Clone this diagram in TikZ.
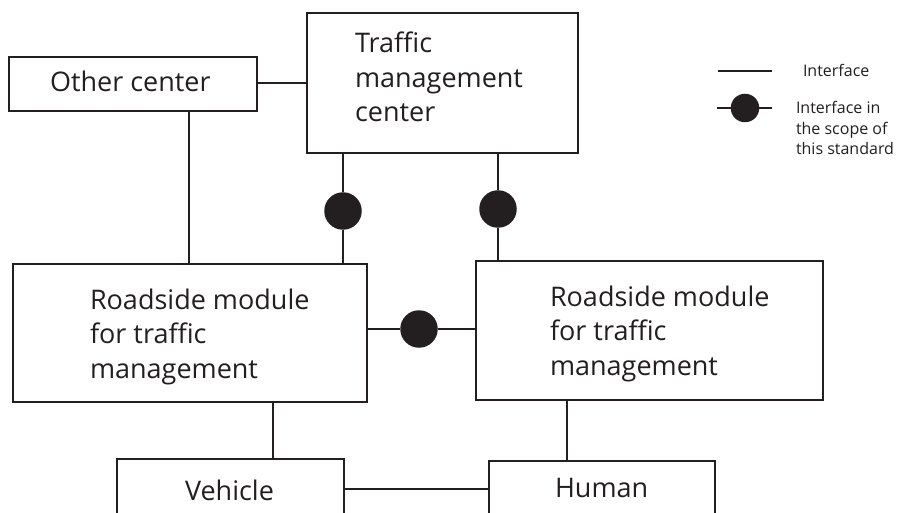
\documentclass[tikz,border=0pt]{standalone}
\usepackage{fontspec}
\setmainfont{Open Sans}
\definecolor{ink}{HTML}{231F20}
\begin{document}
\begin{tikzpicture}[x=1pt,y=-1pt,
  every node/.style={inner sep=0pt, outer sep=0pt},
  box/.style={draw=ink, line width=2.8pt, rectangle, anchor=north west},
  lbl/.style={text=ink, font=\fontsize{27}{34.5}\selectfont, align=left, anchor=base west},
  leg/.style={text=ink, font=\fontsize{16}{20.5}\selectfont, align=left, anchor=base west},
  wire/.style={draw=ink, line width=2.8pt},
  lwire/.style={draw=ink, line width=2.3pt},
  dot/.style={circle, fill=ink, minimum size=37.5pt},
  ldot/.style={circle, fill=ink, minimum size=28.5pt}]
\path[use as bounding box, clip] (0,0) rectangle (900,513);

% boxes
\node[box, minimum width=248pt, minimum height=54pt] (oc) at (9,57) {};
\node[box, minimum width=271pt, minimum height=140pt] (tmc) at (307,13) {};
\node[box, minimum width=354pt, minimum height=138pt] (rl) at (13,264) {};
\node[box, minimum width=347pt, minimum height=139pt] (rr) at (476,261) {};
\node[box, minimum width=227pt, minimum height=90pt] (veh) at (117,459) {};
\node[box, minimum width=226pt, minimum height=90pt] (hum) at (489,461) {};

% texts (anchor = baseline of the last line)
\node[lbl] (toc) at (50,92) {Other center};
\node[lbl] (ttmc) at (355,122) {Traffic\\management\\center};
\node[lbl] (trl) at (90,378) {Roadside module\\for traffic\\management};
\node[lbl] (trr) at (550,375) {Roadside module\\for traffic\\management};
\node[lbl] (tveh) at (185,500) {Vehicle};
\node[lbl] (thum) at (555,497) {Human};

% dots
\node[dot] (d1) at (343,211) {};
\node[dot] (d2) at (498,209) {};
\node[dot] (d3) at (419,329) {};

% connectors
\coordinate (c1) at (257,83);
\draw[wire] (oc.east |- c1) -- (tmc.west |- c1);
\coordinate (c2) at (189,0);
\draw[wire] (oc.south -| c2) -- (rl.north -| c2);
\draw[wire] (tmc.south -| d1) -- (d1) -- (rl.north -| d1);
\draw[wire] (tmc.south -| d2) -- (d2) -- (rr.north -| d2);
\draw[wire] (rl.east |- d3) -- (d3) -- (rr.west |- d3);
\coordinate (c3) at (273,0);
\draw[wire] (rl.south -| c3) -- (veh.north -| c3);
\coordinate (c4) at (567,0);
\draw[wire] (rr.south -| c4) -- (hum.north -| c4);
\coordinate (c5) at (0,489);
\draw[wire] (veh.east |- c5) -- (hum.west |- c5);

% legend
\coordinate (la) at (718,71);
\coordinate (lb) at (772,71);
\draw[lwire] (la) -- (lb);
\node[leg] (lt1) at (803,77) {Interface};
\coordinate (lc) at (717,108);
\coordinate (ld) at (772,108);
\node[ldot] (ldt) at (745,108) {};
\draw[lwire] (lc) -- (ldt) -- (ld);
\node[leg] (lt2) at (796,155) {Interface in\\the scope of\\this standard};
\end{tikzpicture}
\end{document}
